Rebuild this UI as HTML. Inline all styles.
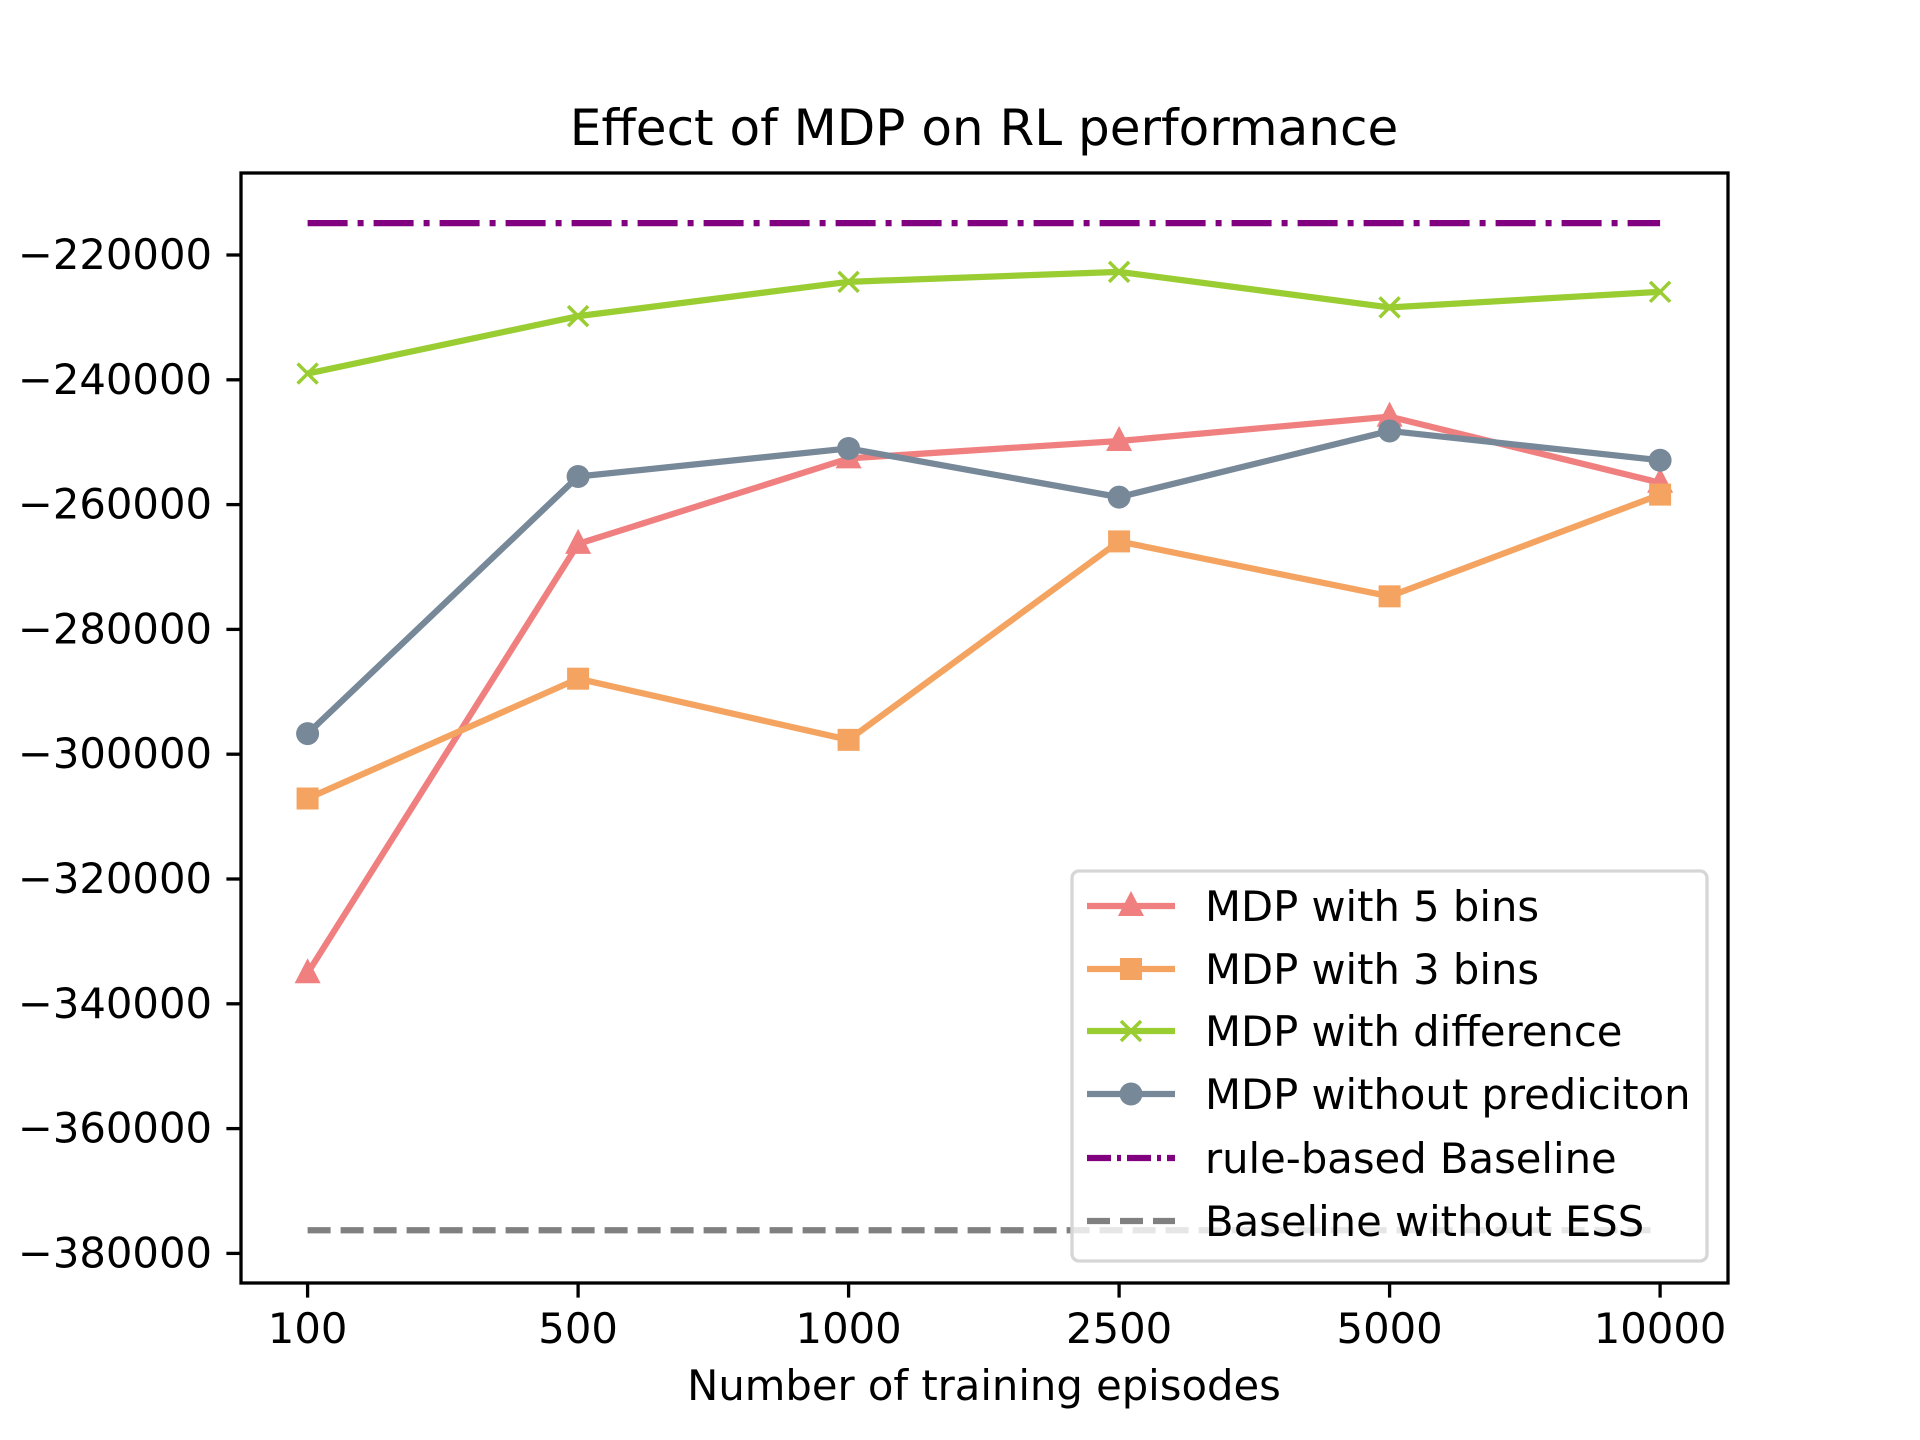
<!DOCTYPE html>
<html><head><meta charset="utf-8"><style>
html,body{margin:0;padding:0;background:#fff;}
svg{display:block;font-family:"DejaVu Sans","Liberation Sans",sans-serif;}
</style></head><body>
<svg id="chart" width="1920" height="1440" viewBox="0 0 1920 1440" xmlns="http://www.w3.org/2000/svg">
<rect width="1920" height="1440" fill="#fff"/>
<text x="984" y="145" font-size="50" text-anchor="middle">Effect of MDP on RL performance</text>
<text x="984" y="1400" font-size="41.7" text-anchor="middle">Number of training episodes</text>
<g id="grid"></g>
</svg>
<script>
const categories = ["100","500","1000","2500","5000","10000"];
const yTicks = [-220000,-240000,-260000,-280000,-300000,-320000,-340000,-360000,-380000];
const yTickLabels = ["−220000","−240000","−260000","−280000","−300000","−320000","−340000","−360000","−380000"];
const bins5 = [-335100,-266300,-252600,-249800,-245900,-256500];
const bins3 = [-307100,-287900,-297700,-265900,-274700,-258400];
const difference = [-239000,-229800,-224300,-222700,-228400,-225900];
const noPrediction = [-296700,-255500,-251000,-258800,-248200,-252900];
const ruleBaseline = -214900;
const noEssBaseline = -376300;

const NS = "http://www.w3.org/2000/svg";
const svg = document.getElementById('chart');
const g = document.getElementById('grid');
const L=241,R=1728,T=173,B=1283;
function xs(i){ return 307.6 + i*270.5; }
function ys(v){ return 255 + (-220000 - v)/20000*124.8; }
function mk(tag, attrs, parent){ const e=document.createElementNS(NS,tag); for(const k in attrs) e.setAttribute(k,attrs[k]); (parent||g).appendChild(e); return e; }

let e = mk('line',{x1:xs(0),x2:xs(5),y1:ys(ruleBaseline),y2:ys(ruleBaseline),stroke:'#800080','stroke-width':6.25,'stroke-dasharray':'40 10 6 10'});


e = mk('line',{x1:xs(0),x2:xs(5),y1:ys(noEssBaseline),y2:ys(noEssBaseline),stroke:'#808080','stroke-width':6.25,'stroke-dasharray':'23 10'});



function marker(type,x,y,color,parent){
  let m;
  if(type==='tri') m=mk('polygon',{points:`${x},${y-15} ${x-13},${y+10} ${x+13},${y+10}`,fill:color},parent);
  else if(type==='sq') m=mk('rect',{x:x-11,y:y-11,width:22,height:22,fill:color},parent);
  else if(type==='circ') m=mk('circle',{cx:x,cy:y,r:11.5,fill:color},parent);
  else { m=mk('path',{d:`M${x-10},${y-10}L${x+10},${y+10}M${x-10},${y+10}L${x+10},${y-10}`,stroke:color,'stroke-width':3.5,fill:'none'},parent); }
  return m;
}
const series=[
  {d:bins5,c:'#f08080',m:'tri',n:'mdp-5-bins'},
  {d:bins3,c:'#f4a460',m:'sq',n:'mdp-3-bins'},
  {d:difference,c:'#9acd32',m:'x',n:'mdp-difference'},
  {d:noPrediction,c:'#778899',m:'circ',n:'mdp-without-prediction'}
];
series.forEach(s=>{
  const p=mk('polyline',{points:s.d.map((v,i)=>xs(i)+','+ys(v)).join(' '),fill:'none',stroke:s.c,'stroke-width':6.25,'stroke-linejoin':'round'});
  
  
  s.d.forEach((v,i)=>{
    const m=marker(s.m,xs(i),ys(v),s.c);
    
    
  });
});

e=mk('rect',{x:L,y:T,width:R-L,height:B-T,fill:'none',stroke:'#000','stroke-width':3.3});


categories.forEach((c,i)=>{
  const t=mk('line',{x1:xs(i),x2:xs(i),y1:B,y2:B+14.6,stroke:'#000','stroke-width':3.3});
  
  
  const l=mk('text',{x:xs(i),y:B+60,'font-size':41.7,'text-anchor':'middle'});
  l.textContent=c;
  
  
});
yTicks.forEach((v,i)=>{
  const t=mk('line',{x1:L-14.6,x2:L,y1:ys(v),y2:ys(v),stroke:'#000','stroke-width':3.3});
  
  
  const l=mk('text',{x:212,y:ys(v)+14,'font-size':41.7,'text-anchor':'end'});
  l.textContent=yTickLabels[i];
  
  
});

const lg=mk('g',{});


mk('rect',{x:1072,y:871,width:635,height:390,rx:7,fill:'#fff','fill-opacity':0.8,stroke:'#d6d6d6','stroke-width':3.3},lg);
const entries=[
  {t:'MDP with 5 bins',c:'#f08080',m:'tri'},
  {t:'MDP with 3 bins',c:'#f4a460',m:'sq'},
  {t:'MDP with difference',c:'#9acd32',m:'x'},
  {t:'MDP without prediciton',c:'#778899',m:'circ'},
  {t:'rule-based Baseline',c:'#800080',m:'dashdot'},
  {t:'Baseline without ESS',c:'#808080',m:'dash'}
];
const rows=[906,969,1031,1094,1158,1221];
entries.forEach((en,i)=>{
  const y=rows[i];
  const eg=mk('g',{},lg);
  
  
  const ln={x1:1087,x2:1175,y1:y,y2:y,stroke:en.c,'stroke-width':6.25};
  if(en.m==='dashdot') ln['stroke-dasharray']='24 6 4 6';
  if(en.m==='dash') ln['stroke-dasharray']='23 10';
  mk('line',ln,eg);
  if(['tri','sq','x','circ'].includes(en.m)) marker(en.m,1131,y,en.c,eg);
  const tx=mk('text',{x:1205,y:y+15,'font-size':41.7},eg);
  tx.textContent=en.t;
});
</script>
</body></html>
